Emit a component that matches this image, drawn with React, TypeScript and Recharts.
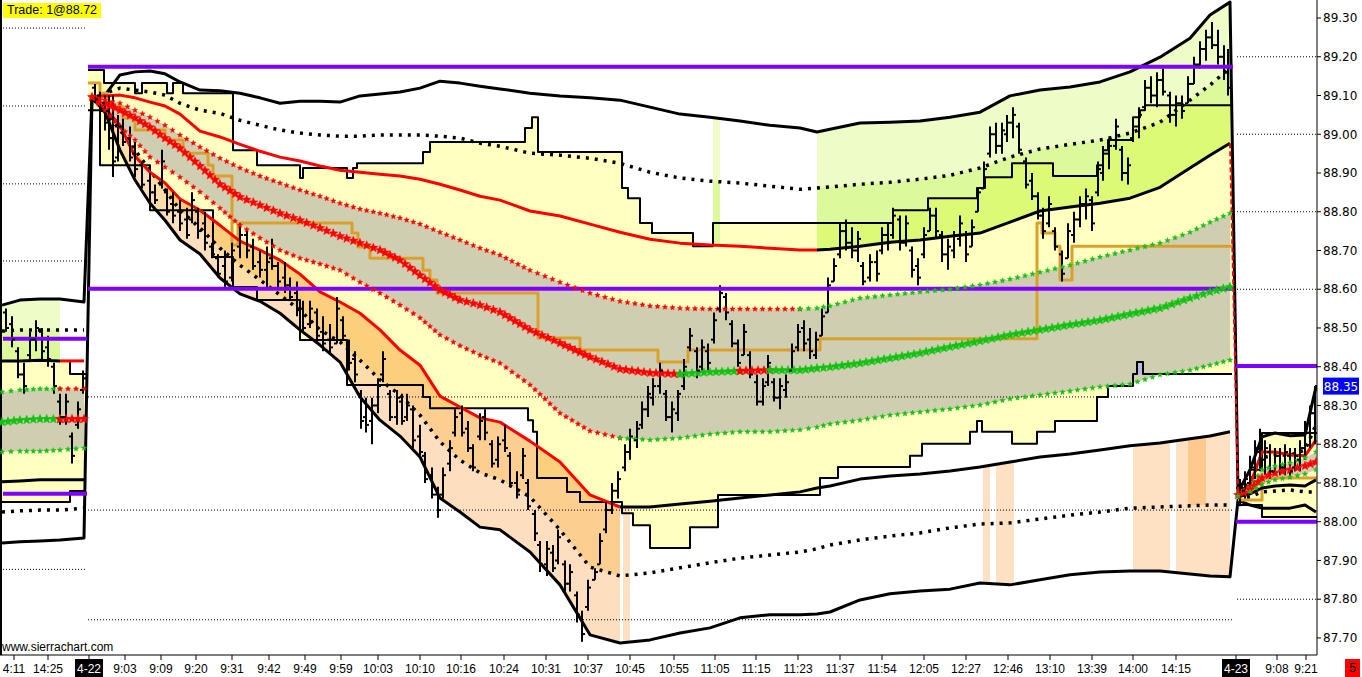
import React from 'react';
import { ComposedChart, XAxis, YAxis, Line, Area, Scatter, ErrorBar, ReferenceLine } from 'recharts';

const Y_MIN = 87.656;
const Y_MAX = 89.3465;
const X_MAX = 1317;

// bar-slot positions (left day | main day | right day)
const slotX = [2, 20, 40, 60, 84,
  92, 105, 120, 135, 150, 165, 180, 200, 220, 240, 260, 280, 300, 320, 340, 360, 380, 400, 420, 440, 460, 480, 500, 530, 560, 590, 620, 650, 680, 710, 740, 770, 800, 817, 830, 860, 890, 920, 950, 980, 1010, 1040, 1070, 1100, 1130, 1160, 1190, 1210, 1230,
  1238, 1250, 1262, 1275, 1290, 1305, 1316];

const upperEnv = [88.559, 88.572, 88.575, 88.575, 88.567,
  89.096, 89.101, 89.153, 89.161, 89.163, 89.156, 89.135, 89.114, 89.112, 89.106, 89.094, 89.080, 89.085, 89.085, 89.083, 89.099, 89.104, 89.109, 89.119, 89.137, 89.132, 89.124, 89.117, 89.106, 89.099, 89.094, 89.088, 89.070, 89.052, 89.044, 89.034, 89.023, 89.016, 89.006, 89.013, 89.029, 89.031, 89.034, 89.044, 89.057, 89.099, 89.114, 89.122, 89.135, 89.161, 89.199, 89.248, 89.308, 89.341,
  88.076, 88.134, 88.219, 88.229, 88.222, 88.224, 88.348];
const upperDot = [88.492, 88.495, 88.495, 88.495, 88.495,
  89.096, 89.106, 89.119, 89.114, 89.109, 89.101, 89.080, 89.062, 89.054, 89.036, 89.023, 89.011, 89.003, 88.998, 88.995, 88.995, 88.998, 88.998, 88.998, 88.995, 88.990, 88.977, 88.969, 88.951, 88.946, 88.938, 88.925, 88.902, 88.887, 88.879, 88.874, 88.866, 88.858, 88.861, 88.864, 88.871, 88.876, 88.884, 88.894, 88.913, 88.941, 88.962, 88.974, 88.985, 89.003, 89.031, 89.088, 89.127, 89.171,
  88.077, 88.108, 88.165, 88.172, 88.172, 88.185, 88.250];
const upperMid = [88.415, 88.415, 88.417, 88.415, 88.415,
  89.096, 89.099, 89.101, 89.094, 89.083, 89.073, 89.052, 89.008, 88.993, 88.974, 88.956, 88.941, 88.931, 88.918, 88.907, 88.902, 88.897, 88.892, 88.884, 88.871, 88.856, 88.840, 88.830, 88.802, 88.789, 88.768, 88.747, 88.729, 88.719, 88.714, 88.711, 88.706, 88.701, 88.701, 88.703, 88.711, 88.721, 88.727, 88.737, 88.745, 88.773, 88.802, 88.812, 88.822, 88.835, 88.863, 88.913, 88.946, 88.977,
  88.072, 88.095, 88.180, 88.180, 88.172, 88.170, 88.211];
const upperStar = [88.335, 88.340, 88.343, 88.343, 88.343,
  89.096, 89.088, 89.080, 89.062, 89.044, 89.023, 88.998, 88.967, 88.938, 88.913, 88.892, 88.874, 88.856, 88.840, 88.822, 88.807, 88.796, 88.784, 88.768, 88.747, 88.727, 88.706, 88.688, 88.649, 88.618, 88.590, 88.569, 88.557, 88.551, 88.549, 88.549, 88.549, 88.549, 88.551, 88.557, 88.577, 88.585, 88.593, 88.600, 88.611, 88.626, 88.644, 88.662, 88.683, 88.701, 88.719, 88.747, 88.773, 88.796,
  88.072, 88.087, 88.134, 88.144, 88.152, 88.165, 88.180];
const centerStar = [88.257, 88.262, 88.265, 88.265, 88.265,
  89.096, 89.080, 89.062, 89.042, 89.018, 88.990, 88.964, 88.918, 88.871, 88.838, 88.817, 88.796, 88.778, 88.758, 88.737, 88.719, 88.701, 88.675, 88.636, 88.598, 88.572, 88.559, 88.541, 88.495, 88.461, 88.425, 88.394, 88.384, 88.381, 88.386, 88.389, 88.391, 88.391, 88.396, 88.399, 88.409, 88.422, 88.435, 88.451, 88.466, 88.482, 88.495, 88.508, 88.520, 88.536, 88.551, 88.577, 88.593, 88.606,
  88.069, 88.082, 88.113, 88.126, 88.134, 88.144, 88.154];
const lowerStar = [88.180, 88.182, 88.182, 88.185, 88.190,
  89.096, 89.062, 89.018, 88.985, 88.941, 88.915, 88.889, 88.851, 88.809, 88.765, 88.732, 88.701, 88.680, 88.665, 88.649, 88.618, 88.590, 88.559, 88.526, 88.482, 88.454, 88.430, 88.409, 88.353, 88.280, 88.234, 88.216, 88.211, 88.216, 88.226, 88.232, 88.232, 88.237, 88.244, 88.252, 88.262, 88.275, 88.283, 88.291, 88.301, 88.317, 88.327, 88.337, 88.348, 88.355, 88.379, 88.391, 88.404, 88.417,
  88.066, 88.077, 88.097, 88.108, 88.115, 88.123, 88.134];
const lowerMid = [88.103, 88.105, 88.108, 88.108, 88.108,
  89.096, 89.067, 89.023, 88.943, 88.902, 88.874, 88.833, 88.804, 88.765, 88.724, 88.701, 88.675, 88.639, 88.593, 88.567, 88.538, 88.495, 88.443, 88.404, 88.324, 88.296, 88.268, 88.257, 88.208, 88.154, 88.069, 88.038, 88.038, 88.046, 88.053, 88.061, 88.069, 88.077, 88.087, 88.092, 88.110, 88.118, 88.123, 88.131, 88.141, 88.154, 88.167, 88.175, 88.185, 88.196, 88.203, 88.214, 88.221, 88.232,
  88.064, 88.072, 88.087, 88.092, 88.095, 88.092, 88.108];
const lowerDot = [88.025, 88.028, 88.030, 88.030, 88.035,
  89.096, 89.057, 89.011, 88.959, 88.907, 88.856, 88.804, 88.758, 88.706, 88.662, 88.624, 88.585, 88.546, 88.495, 88.464, 88.417, 88.366, 88.327, 88.275, 88.206, 88.159, 88.126, 88.108, 88.064, 87.979, 87.883, 87.860, 87.868, 87.881, 87.894, 87.906, 87.914, 87.922, 87.930, 87.940, 87.953, 87.963, 87.971, 87.984, 87.994, 87.997, 88.007, 88.017, 88.025, 88.035, 88.038, 88.041, 88.043, 88.043,
  88.061, 88.064, 88.077, 88.079, 88.082, 88.077, 88.077];
const lowerEnv = [87.945, 87.948, 87.950, 87.953, 87.958,
  89.096, 89.057, 88.959, 88.882, 88.822, 88.778, 88.727, 88.691, 88.629, 88.588, 88.569, 88.538, 88.495, 88.456, 88.412, 88.322, 88.262, 88.221, 88.167, 88.061, 88.025, 87.986, 87.979, 87.922, 87.837, 87.708, 87.687, 87.695, 87.713, 87.726, 87.752, 87.760, 87.760, 87.762, 87.767, 87.798, 87.814, 87.821, 87.826, 87.842, 87.837, 87.850, 87.863, 87.870, 87.873, 87.873, 87.865, 87.860, 87.858,
  88.056, 88.043, 88.035, 88.035, 88.035, 88.043, 88.025];

// value-area high / low (step lines)
const vaHighX = [0, 70, 86, 88, 104, 135, 142, 167, 173, 183, 233, 257, 300, 303, 347, 353, 357, 423, 430, 525, 532, 538, 622, 628, 640, 652, 693, 713, 893, 928, 977, 985, 1012, 1053, 1097, 1103, 1108, 1133, 1140, 1145, 1232, 1236, 1250, 1262, 1317];
const vaHigh = [88.415, 88.381, 88.381, 89.166, 89.132, 89.106, 89.132, 89.106, 89.132, 89.106, 88.959, 88.920, 88.887, 88.913, 88.887, 88.913, 88.925, 88.954, 88.980, 89.016, 89.044, 88.954, 88.861, 88.835, 88.771, 88.745, 88.711, 88.771, 88.804, 88.835, 88.861, 88.889, 88.925, 88.892, 88.920, 88.959, 88.985, 89.044, 89.062, 89.075, 89.075, 88.087, 88.134, 88.229, 88.229];
const vaLowX = [0, 70, 86, 88, 100, 150, 213, 233, 257, 300, 347, 423, 430, 528, 533, 537, 567, 580, 622, 633, 650, 690, 718, 820, 838, 910, 922, 970, 977, 982, 1012, 1037, 1055, 1097, 1108, 1133, 1137, 1143, 1232, 1236, 1262, 1317];
const vaLow = [88.051, 88.079, 88.079, 89.062, 88.920, 88.804, 88.683, 88.606, 88.572, 88.469, 88.353, 88.322, 88.293, 88.262, 88.232, 88.113, 88.077, 88.051, 88.022, 87.991, 87.932, 87.986, 88.069, 88.113, 88.141, 88.170, 88.201, 88.232, 88.260, 88.232, 88.201, 88.232, 88.260, 88.322, 88.350, 88.381, 88.412, 88.381, 88.381, 88.043, 88.012, 88.012];

// developing VWAP step line
const vwapX = [88, 100, 107, 123, 135, 165, 183, 208, 213, 232, 238, 352, 358, 370, 423, 430, 437, 538, 580, 658, 688, 820, 1037, 1042, 1055, 1060, 1072, 1232, 1238, 1262, 1317];
const vwap = [89.132, 89.106, 89.070, 89.042, 89.011, 88.985, 88.951, 88.920, 88.892, 88.714, 88.771, 88.745, 88.709, 88.680, 88.649, 88.624, 88.590, 88.474, 88.443, 88.412, 88.443, 88.472, 88.771, 88.745, 88.711, 88.624, 88.711, 88.711, 88.056, 88.113, 88.113];

// highlighted bar columns: [x, top, bottom]
const peachStripes: [number, number, number][][] = [
  [[623, 88.038, 87.690], [630, 88.038, 87.687]],
  [[983, 88.144, 87.842], [990, 88.146, 87.839]],
  [[996, 88.149, 87.837], [1014, 88.157, 87.839]],
  [[1133, 88.196, 87.873], [1170, 88.206, 87.870]],
  [[1176, 88.208, 87.868], [1230, 88.232, 87.858]],
];
const amberStripe: [number, number, number][] = [[1188, 88.214, 88.041], [1206, 88.219, 88.043]];
const greenStripe: [number, number, number, number][] = [[713, 89.044, 88.879, 88.714], [720, 89.042, 88.876, 88.714]];
const lavenderBox: [number, number, number][] = [[1137, 88.412, 88.381], [1143, 88.412, 88.381]];

// OHLC bars: [x, open, high, low, close]
const ohlc: [number, number, number, number, number][] = [
  [6, 88.54, 88.55, 88.49, 88.50], [12, 88.51, 88.53, 88.45, 88.47], [18, 88.44, 88.45, 88.37, 88.38], [24, 88.38, 88.41, 88.33, 88.35],
  [30, 88.43, 88.49, 88.42, 88.47], [36, 88.47, 88.52, 88.44, 88.50], [42, 88.49, 88.50, 88.42, 88.44], [48, 88.45, 88.48, 88.40, 88.42],
  [54, 88.40, 88.41, 88.33, 88.35], [60, 88.31, 88.33, 88.25, 88.27], [66, 88.27, 88.33, 88.25, 88.31], [72, 88.22, 88.23, 88.15, 88.17],
  [78, 88.25, 88.31, 88.24, 88.29], [83, 88.34, 88.39, 88.33, 88.37],
  [95, 89.12, 89.13, 89.08, 89.09], [100, 89.10, 89.11, 89.05, 89.06], [105, 89.08, 89.10, 89.01, 89.03], [109, 89.06, 89.10, 88.96, 88.99],
  [113, 88.99, 89.10, 88.89, 88.93], [118, 88.94, 89.05, 88.93, 89.02], [123, 89.02, 89.04, 88.97, 88.98], [130, 88.99, 89.02, 88.93, 88.94],
  [135, 88.95, 88.98, 88.89, 88.91], [142, 88.92, 88.93, 88.86, 88.87], [150, 88.88, 88.90, 88.84, 88.85], [155, 88.85, 88.87, 88.82, 88.83],
  [162, 88.87, 88.96, 88.86, 88.93], [167, 88.85, 88.86, 88.79, 88.80], [173, 88.82, 88.85, 88.77, 88.79], [180, 88.80, 88.83, 88.75, 88.77],
  [187, 88.78, 88.81, 88.73, 88.74], [192, 88.78, 88.85, 88.77, 88.83], [198, 88.80, 88.81, 88.73, 88.75], [205, 88.77, 88.80, 88.70, 88.72],
  [212, 88.71, 88.72, 88.68, 88.69], [218, 88.68, 88.69, 88.63, 88.64], [225, 88.66, 88.70, 88.60, 88.62], [232, 88.63, 88.72, 88.62, 88.70],
  [240, 88.71, 88.77, 88.68, 88.74], [247, 88.74, 88.75, 88.68, 88.70], [253, 88.71, 88.73, 88.65, 88.66], [260, 88.67, 88.70, 88.63, 88.65],
  [267, 88.65, 88.71, 88.60, 88.67], [272, 88.68, 88.73, 88.65, 88.66], [278, 88.66, 88.67, 88.60, 88.62], [285, 88.63, 88.67, 88.59, 88.61],
  [290, 88.61, 88.63, 88.57, 88.58], [297, 88.59, 88.62, 88.53, 88.55], [303, 88.55, 88.57, 88.49, 88.50], [310, 88.51, 88.57, 88.50, 88.55],
  [317, 88.54, 88.55, 88.46, 88.48], [323, 88.49, 88.53, 88.44, 88.46], [330, 88.47, 88.51, 88.43, 88.45], [337, 88.46, 88.58, 88.46, 88.55],
  [343, 88.52, 88.53, 88.47, 88.48], [349, 88.46, 88.47, 88.39, 88.41], [355, 88.42, 88.44, 88.36, 88.38], [361, 88.33, 88.34, 88.24, 88.26],
  [366, 88.27, 88.32, 88.23, 88.25], [372, 88.26, 88.32, 88.20, 88.30], [378, 88.30, 88.37, 88.28, 88.35], [383, 88.38, 88.44, 88.36, 88.42],
  [390, 88.33, 88.34, 88.26, 88.27], [397, 88.27, 88.34, 88.25, 88.32], [402, 88.31, 88.33, 88.25, 88.26], [407, 88.27, 88.33, 88.26, 88.30],
  [413, 88.29, 88.30, 88.19, 88.21], [420, 88.22, 88.25, 88.17, 88.18], [425, 88.17, 88.18, 88.10, 88.11], [432, 88.12, 88.14, 88.06, 88.07],
  [438, 88.07, 88.09, 88.01, 88.03], [443, 88.07, 88.14, 88.06, 88.12], [450, 88.15, 88.21, 88.13, 88.19], [455, 88.23, 88.29, 88.22, 88.27],
  [462, 88.28, 88.30, 88.22, 88.23], [468, 88.24, 88.26, 88.18, 88.19], [473, 88.19, 88.20, 88.13, 88.14], [480, 88.22, 88.28, 88.21, 88.26],
  [485, 88.27, 88.29, 88.21, 88.23], [492, 88.20, 88.21, 88.14, 88.15], [498, 88.16, 88.22, 88.14, 88.20], [505, 88.21, 88.25, 88.18, 88.19],
  [510, 88.17, 88.18, 88.09, 88.10], [517, 88.10, 88.13, 88.06, 88.07], [523, 88.12, 88.19, 88.11, 88.17], [528, 88.10, 88.11, 88.03, 88.04],
  [535, 88.02, 88.03, 87.95, 87.97], [540, 87.94, 87.95, 87.87, 87.89], [547, 87.89, 87.95, 87.86, 87.93], [553, 87.92, 87.94, 87.87, 87.88],
  [558, 87.90, 87.98, 87.89, 87.96], [565, 87.89, 87.90, 87.82, 87.84], [570, 87.84, 87.89, 87.82, 87.87], [577, 87.81, 87.82, 87.74, 87.76],
  [582, 87.75, 87.77, 87.69, 87.71], [588, 87.78, 87.85, 87.77, 87.83], [595, 87.85, 87.88, 87.85, 87.87], [600, 87.89, 87.97, 87.89, 87.95],
  [606, 87.98, 88.05, 87.97, 88.03], [612, 88.03, 88.10, 88.02, 88.08], [618, 88.08, 88.13, 88.06, 88.11], [625, 88.14, 88.20, 88.13, 88.18],
  [630, 88.18, 88.24, 88.16, 88.22], [637, 88.21, 88.26, 88.19, 88.24], [642, 88.25, 88.31, 88.24, 88.29], [648, 88.29, 88.35, 88.27, 88.33],
  [653, 88.32, 88.37, 88.30, 88.35], [660, 88.35, 88.41, 88.33, 88.39], [666, 88.33, 88.34, 88.26, 88.27], [672, 88.27, 88.31, 88.23, 88.29],
  [678, 88.28, 88.34, 88.26, 88.33], [684, 88.35, 88.42, 88.34, 88.40], [690, 88.45, 88.50, 88.44, 88.48], [697, 88.44, 88.45, 88.37, 88.39],
  [702, 88.40, 88.47, 88.39, 88.45], [708, 88.44, 88.46, 88.39, 88.41], [714, 88.47, 88.54, 88.46, 88.52], [720, 88.55, 88.61, 88.54, 88.59],
  [726, 88.58, 88.59, 88.52, 88.54], [732, 88.51, 88.52, 88.45, 88.46], [738, 88.46, 88.47, 88.40, 88.41], [744, 88.43, 88.51, 88.43, 88.49],
  [750, 88.43, 88.44, 88.37, 88.38], [757, 88.36, 88.38, 88.30, 88.31], [763, 88.31, 88.37, 88.30, 88.35], [768, 88.36, 88.43, 88.35, 88.41],
  [774, 88.36, 88.37, 88.31, 88.32], [780, 88.32, 88.37, 88.29, 88.35], [786, 88.34, 88.38, 88.32, 88.36], [792, 88.39, 88.46, 88.39, 88.44],
  [798, 88.45, 88.51, 88.44, 88.49], [804, 88.50, 88.52, 88.44, 88.46], [810, 88.47, 88.50, 88.42, 88.44], [816, 88.43, 88.49, 88.42, 88.47],
  [822, 88.48, 88.55, 88.48, 88.53], [828, 88.54, 88.63, 88.54, 88.61], [834, 88.62, 88.68, 88.62, 88.66], [840, 88.69, 88.77, 88.68, 88.75],
  [846, 88.75, 88.78, 88.70, 88.72], [852, 88.72, 88.76, 88.68, 88.70], [858, 88.70, 88.75, 88.67, 88.73], [863, 88.66, 88.67, 88.61, 88.62],
  [870, 88.63, 88.69, 88.62, 88.67], [877, 88.67, 88.70, 88.62, 88.64], [882, 88.70, 88.76, 88.69, 88.74], [888, 88.74, 88.77, 88.70, 88.72],
  [893, 88.74, 88.81, 88.73, 88.79], [900, 88.78, 88.79, 88.70, 88.72], [906, 88.72, 88.79, 88.71, 88.77], [912, 88.70, 88.71, 88.63, 88.65],
  [918, 88.66, 88.68, 88.61, 88.63], [924, 88.69, 88.76, 88.68, 88.74], [930, 88.75, 88.81, 88.75, 88.79], [936, 88.79, 88.81, 88.73, 88.75],
  [942, 88.74, 88.75, 88.67, 88.69], [948, 88.69, 88.73, 88.65, 88.71], [954, 88.70, 88.75, 88.68, 88.74], [960, 88.73, 88.79, 88.71, 88.77],
  [966, 88.74, 88.75, 88.67, 88.69], [972, 88.71, 88.78, 88.71, 88.76], [978, 88.80, 88.86, 88.80, 88.85], [984, 88.86, 88.93, 88.86, 88.91],
  [990, 88.95, 89.02, 88.94, 89.00], [996, 89.00, 89.03, 88.95, 88.97], [1002, 88.97, 89.03, 88.95, 89.01], [1007, 89.00, 89.05, 88.98, 89.03],
  [1013, 89.03, 89.07, 88.99, 89.05], [1019, 89.02, 89.03, 88.95, 88.96], [1026, 88.93, 88.94, 88.86, 88.87], [1032, 88.88, 88.90, 88.83, 88.84],
  [1038, 88.84, 88.85, 88.78, 88.79], [1043, 88.79, 88.81, 88.73, 88.75], [1049, 88.77, 88.84, 88.76, 88.82], [1055, 88.75, 88.76, 88.70, 88.71],
  [1062, 88.69, 88.70, 88.62, 88.64], [1068, 88.68, 88.77, 88.68, 88.75], [1074, 88.74, 88.80, 88.72, 88.78], [1080, 88.78, 88.84, 88.76, 88.82],
  [1086, 88.82, 88.86, 88.78, 88.84], [1092, 88.83, 88.84, 88.75, 88.77], [1098, 88.85, 88.93, 88.84, 88.91], [1103, 88.90, 88.97, 88.88, 88.95],
  [1109, 88.95, 88.99, 88.91, 88.97], [1116, 88.97, 89.04, 88.96, 89.02], [1122, 88.96, 88.97, 88.88, 88.90], [1128, 88.90, 88.94, 88.87, 88.92],
  [1133, 88.99, 89.04, 88.98, 89.02], [1139, 89.02, 89.07, 88.99, 89.05], [1145, 89.07, 89.14, 89.07, 89.12], [1151, 89.12, 89.15, 89.08, 89.10],
  [1157, 89.10, 89.16, 89.07, 89.14], [1163, 89.14, 89.17, 89.10, 89.11], [1170, 89.10, 89.11, 89.03, 89.05], [1176, 89.05, 89.10, 89.02, 89.08],
  [1182, 89.08, 89.10, 89.04, 89.06], [1188, 89.08, 89.15, 89.08, 89.13], [1194, 89.13, 89.20, 89.13, 89.18], [1200, 89.18, 89.24, 89.17, 89.22],
  [1206, 89.22, 89.27, 89.19, 89.25], [1212, 89.25, 89.29, 89.22, 89.23], [1218, 89.23, 89.27, 89.18, 89.20], [1224, 89.20, 89.23, 89.14, 89.16],
  [1228, 89.16, 89.22, 89.10, 89.12],
  [1240, 88.05, 88.11, 88.04, 88.09], [1245, 88.08, 88.13, 88.06, 88.11], [1250, 88.10, 88.17, 88.08, 88.15], [1255, 88.14, 88.21, 88.11, 88.19],
  [1260, 88.18, 88.24, 88.13, 88.16], [1265, 88.16, 88.21, 88.12, 88.19], [1270, 88.18, 88.20, 88.11, 88.13], [1275, 88.13, 88.19, 88.12, 88.17],
  [1280, 88.17, 88.19, 88.12, 88.14], [1285, 88.14, 88.20, 88.12, 88.18], [1290, 88.17, 88.19, 88.11, 88.13], [1295, 88.14, 88.19, 88.13, 88.17],
  [1300, 88.16, 88.21, 88.13, 88.19], [1305, 88.19, 88.26, 88.16, 88.24], [1310, 88.23, 88.30, 88.19, 88.28], [1315, 88.28, 88.35, 88.20, 88.35],
];

const gridMain = [88.322, 88.030, 87.747];
const gridLeft = [89.274, 89.073, 88.872, 88.673, 87.877];
const gridRight = [89.20, 89.00, 88.80, 88.60, 87.80];
const levelsMain = [89.174, 88.601];
const levelsLeft = [88.472, 88.072];
const levelsRight = [88.402, 88.000];
const lastPrice = 88.35;

const yTicks = [87.7, 87.8, 87.9, 88.0, 88.1, 88.2, 88.3, 88.4, 88.5, 88.6, 88.7, 88.8, 88.9, 89.0, 89.1, 89.2, 89.3];
const xTickPos = [14, 48, 89, 125, 161, 196, 232, 269, 305, 341, 378, 420, 461, 504, 546, 588, 630, 674, 715, 756, 798, 840, 882, 924, 966, 1008, 1050, 1092, 1133, 1176, 1236, 1277, 1306];
const xTickLabels = ['4:11', '14:25', '4-22', '9:03', '9:09', '9:20', '9:31', '9:42', '9:49', '9:59', '10:03', '10:10', '10:16', '10:24', '10:31', '10:37', '10:45', '10:55', '11:05', '11:15', '11:23', '11:37', '11:54', '12:05', '12:27', '12:46', '13:10', '13:39', '14:00', '14:15', '4-23', '9:08', '9:21'];

// ---------- derived tables ----------
const rows = slotX.map((x, i) => ({
  x, uEnv: upperEnv[i], uDot: upperDot[i], uMid: upperMid[i], uStar: upperStar[i], cStar: centerStar[i],
  lStar: lowerStar[i], lMid: lowerMid[i], lDot: lowerDot[i], lEnv: lowerEnv[i],
}));
const seg = (a: number, b: number) => rows.filter((r) => r.x >= a && r.x <= b);
const stepRows = (xs: number[], vs: number[], a: number, b: number) =>
  xs.map((x, i) => ({ x, v: vs[i] })).filter((r) => r.x >= a && r.x <= b);
const DAYS: [number, number][] = [[0, 86], [88, 1233], [1236, 1317]];

const barRows = ohlc.map(([x, o, h, l, c]) => ({ x, y: c, err: [c - l, h - c] }));
const openRows = ohlc.map(([x, o]) => ({ x, y: o }));

const RED = '#ff0000';
const GREEN = '#12c212';
const BLACK = '#000000';

function starPath(cx: number, cy: number, R: number): string {
  const r = R * 0.45;
  let d = '';
  for (let k = 0; k < 10; k++) {
    const ang = -Math.PI / 2 + (k * Math.PI) / 5;
    const rad = k % 2 === 0 ? R : r;
    d += (k === 0 ? 'M' : 'L') + (cx + rad * Math.cos(ang)).toFixed(1) + ' ' + (cy + rad * Math.sin(ang)).toFixed(1);
  }
  return d + 'Z';
}

const makeStarDot = (color: string, R: number, gap: number) => (p: any) => {
  const { cx, cy, index, points } = p;
  if (cx == null || cy == null || isNaN(cx) || isNaN(cy)) return <g key={`st-${index}`} />;
  let d = '';
  const next = points && points[index + 1];
  if (next && next.x != null && next.y != null) {
    const dx = next.x - cx;
    const dy = next.y - cy;
    const L = Math.hypot(dx, dy);
    const n = Math.max(1, Math.floor(L / gap));
    for (let k = 0; k < n; k++) {
      const t = k / n;
      d += starPath(cx + dx * t, cy + dy * t, R);
    }
  } else {
    d = starPath(cx, cy, R);
  }
  return <path key={`st-${index}`} d={d} fill={color} stroke={color} strokeWidth={0.4} />;
};

const XTick = (p: any) => {
  const v = p.payload ? p.payload.value : undefined;
  const i = xTickPos.indexOf(v);
  const label = i >= 0 ? xTickLabels[i] : '';
  const isDate = label.indexOf('-') >= 0;
  return (
    <g>
      {isDate && <rect x={p.x - 14} y={p.y - 1} width={28} height={18} fill="#000" />}
      <text x={p.x} y={p.y + 13} textAnchor="middle" fontSize={12} fontFamily="Liberation Sans, Arial, sans-serif" fill={isDate ? '#fff' : '#000'}>
        {label}
      </text>
    </g>
  );
};

const PriceTag = (p: any) => {
  const vb = p.viewBox || {};
  const x = (vb.x || 0) + (vb.width || 0) + 6;
  const y = (vb.y || 0) - 8.5;
  return (
    <g>
      <rect x={x} y={y} width={36} height={17} fill="#0000ff" />
      <text x={x + 18} y={y + 13} textAnchor="middle" fontSize={12} fontFamily="DejaVu Sans, Verdana, sans-serif" fill="#fff">
        {lastPrice.toFixed(2)}
      </text>
    </g>
  );
};

export default function App() {
  const lineCommon = { isAnimationActive: false, dot: false, activeDot: false, type: 'linear' as const };
  const lines: React.ReactNode[] = [];
  let k = 0;
  const addLine = (data: any[], key: string, color: string, width: number, dash?: string, curve: any = 'linear') => {
    lines.push(
      <Line key={`ln${k++}`} {...lineCommon} type={curve} data={data} dataKey={key} stroke={color} strokeWidth={width}
        strokeDasharray={dash} strokeLinejoin="round" />
    );
  };
  const stars: React.ReactNode[] = [];
  const addStars = (data: any[], key: string, color: string, R: number, gap: number) => {
    stars.push(
      <Line key={`sr${k++}`} isAnimationActive={false} activeDot={false} type="linear" data={data} dataKey={key}
        stroke="none" dot={makeStarDot(color, R, gap)} />
    );
  };

  // envelopes (continuous across sessions)
  addLine(rows, 'uEnv', BLACK, 3);
  addLine(rows, 'lEnv', BLACK, 3);
  DAYS.forEach(([a, b]) => {
    addLine(seg(a, b), 'uDot', BLACK, 3.5, '3 6');
    addLine(seg(a, b), 'lDot', BLACK, 3.5, '3 6');
    addLine(stepRows(vaHighX, vaHigh, a, b), 'v', BLACK, 2, undefined, 'stepAfter');
    addLine(stepRows(vaLowX, vaLow, a, b), 'v', BLACK, 2, undefined, 'stepAfter');
  });
  addLine(stepRows(vwapX, vwap, 88, 1233), 'v', '#d9a12c', 3, undefined, 'stepAfter');
  addLine(stepRows(vwapX, vwap, 1236, 1317), 'v', '#d9a12c', 3, undefined, 'stepAfter');
  // middle bands
  addLine(seg(0, 60), 'uMid', BLACK, 3);
  addLine(seg(60, 86), 'uMid', RED, 3);
  addLine(seg(88, 817), 'uMid', RED, 3);
  addLine(seg(817, 1233), 'uMid', BLACK, 3);
  addLine(seg(1236, 1317), 'uMid', RED, 3);
  addLine(seg(1230, 1238), 'uMid', RED, 2, '5 3');
  addLine(seg(0, 86), 'lMid', BLACK, 3);
  addLine(seg(88, 620), 'lMid', RED, 3);
  addLine(seg(620, 1233), 'lMid', BLACK, 3);
  addLine(seg(1236, 1317), 'lMid', BLACK, 3);

  // star lines
  addStars(seg(0, 60), 'uStar', GREEN, 2.8, 6.5);
  addStars(seg(60, 86), 'uStar', RED, 2.8, 6.5);
  addStars(seg(88, 800), 'uStar', RED, 2.8, 6.5);
  addStars(seg(800, 1233), 'uStar', GREEN, 2.8, 6.5);
  addStars(seg(1236, 1317), 'uStar', GREEN, 2.8, 6.5);
  addStars(seg(0, 60), 'cStar', GREEN, 4.8, 5.5);
  addStars(seg(60, 86), 'cStar', RED, 4.8, 5.5);
  addStars(seg(88, 680), 'cStar', RED, 4.8, 5.5);
  addStars(seg(680, 740), 'cStar', GREEN, 4.8, 5.5);
  addStars(seg(740, 770), 'cStar', RED, 4.8, 5.5);
  addStars(seg(770, 1233), 'cStar', GREEN, 4.8, 5.5);
  addStars(seg(1236, 1317), 'cStar', RED, 4.8, 5.5);
  addStars(seg(0, 86), 'lStar', GREEN, 2.8, 6.5);
  addStars(seg(88, 620), 'lStar', RED, 2.8, 6.5);
  addStars(seg(620, 1233), 'lStar', GREEN, 2.8, 6.5);
  addStars(seg(1236, 1317), 'lStar', GREEN, 2.8, 6.5);

  const areaCommon = { isAnimationActive: false, stroke: 'none', activeDot: false as const };

  return (
    <div style={{ position: 'absolute', left: 0, top: 0, width: 1362, height: 677, background: '#fff', overflow: 'hidden' }}>
      <ComposedChart width={1362} height={677} margin={{ top: 0, right: 0, left: 0, bottom: 0 }}>
        <XAxis dataKey="x" type="number" domain={[0, X_MAX]} allowDataOverflow ticks={xTickPos} interval={0}
          tick={<XTick />} tickSize={5} tickMargin={0} height={22} axisLine={{ stroke: '#000' }} tickLine={{ stroke: '#000' }} />
        <YAxis orientation="right" type="number" domain={[Y_MIN, Y_MAX]} allowDataOverflow ticks={yTicks} interval={0}
          tickFormatter={(v: number) => v.toFixed(2)} width={45} tickSize={4} tickMargin={2}
          tick={{ fontSize: 12, fontFamily: 'DejaVu Sans, Verdana, sans-serif', fill: '#000' }}
          axisLine={{ stroke: '#000' }} tickLine={{ stroke: '#000' }} />

        {/* value-area fill */}
        {DAYS.map(([a, b], i) => (
          <Area key={`vah${i}`} {...areaCommon} data={stepRows(vaHighX, vaHigh, a, b)} dataKey="v" type="stepAfter"
            baseValue={Y_MIN} fill="#ffffc0" fillOpacity={1} />
        ))}
        {DAYS.map(([a, b], i) => (
          <Area key={`val${i}`} {...areaCommon} data={stepRows(vaLowX, vaLow, a, b)} dataKey="v" type="stepAfter"
            baseValue={Y_MIN} fill="#ffffff" fillOpacity={1} />
        ))}
        {/* lower (orange) bands */}
        <Area {...areaCommon} data={seg(105, 620)} dataKey={(r: any) => [r.lEnv, r.lDot]} type="linear" fill="rgb(252,205,157)" fillOpacity={0.667} />
        <Area {...areaCommon} data={seg(105, 620)} dataKey={(r: any) => [r.lDot, r.lMid]} type="linear" fill="rgb(250,183,90)" fillOpacity={0.667} />
        {/* upper (green) bands */}
        {[seg(0, 60), seg(817, 1233)].map((d, i) => (
          <Area key={`ga${i}`} {...areaCommon} data={d} dataKey={(r: any) => [r.uDot, r.uEnv]} type="linear" fill="rgb(212,247,117)" fillOpacity={0.4} />
        ))}
        {[seg(0, 60), seg(817, 1233)].map((d, i) => (
          <Area key={`gb${i}`} {...areaCommon} data={d} dataKey={(r: any) => [r.uMid, r.uDot]} type="linear" fill="rgb(167,242,8)" fillOpacity={0.4} />
        ))}
        {/* highlighted columns */}
        {peachStripes.map((s, i) => (
          <Area key={`ps${i}`} {...areaCommon} data={s.map(([x, t, btm]) => ({ x, r: [btm, t] }))} dataKey="r" type="linear" fill="#fee0c2" fillOpacity={1} />
        ))}
        <Area {...areaCommon} data={amberStripe.map(([x, t, btm]) => ({ x, r: [btm, t] }))} dataKey="r" type="linear" fill="#fdc98f" fillOpacity={1} />
        <Area {...areaCommon} data={greenStripe.map(([x, e, d]) => ({ x, r: [d, e] }))} dataKey="r" type="linear" fill="#eefcc8" fillOpacity={1} />
        <Area {...areaCommon} data={greenStripe.map(([x, e, d, m]) => ({ x, r: [m, d] }))} dataKey="r" type="linear" fill="#dcfa9c" fillOpacity={1} />
        {/* standard-deviation band */}
        {DAYS.map(([a, b], i) => (
          <Area key={`gr${i}`} {...areaCommon} data={seg(a, b)} dataKey={(r: any) => [r.lStar, r.uStar]} type="linear" fill="#d0ceb0" fillOpacity={1} />
        ))}
        <Area {...areaCommon} data={lavenderBox.map(([x, t, btm]) => ({ x, r: [btm, t] }))} dataKey="r" type="linear" fill="#b9b9ea" fillOpacity={1} />

        {/* dotted level lines */}
        {gridMain.map((v, i) => (
          <ReferenceLine key={`gm${i}`} segment={[{ x: 88, y: v }, { x: 1232, y: v }]} stroke="#000" strokeWidth={1} strokeDasharray="1 2" />
        ))}
        {gridLeft.map((v, i) => (
          <ReferenceLine key={`gl${i}`} segment={[{ x: 3, y: v }, { x: 86, y: v }]} stroke="#000" strokeWidth={1} strokeDasharray="1 2" />
        ))}
        {gridRight.map((v, i) => (
          <ReferenceLine key={`grr${i}`} segment={[{ x: 1237, y: v }, { x: 1316, y: v }]} stroke="#000" strokeWidth={1} strokeDasharray="1 2" />
        ))}
        <ReferenceLine x={1} stroke="#000" strokeWidth={2} />

        {lines}
        {stars}

        <Scatter data={barRows} dataKey="y" isAnimationActive={false}
          shape={(p: any) => <line x1={p.cx} x2={p.cx + 3} y1={p.cy} y2={p.cy} stroke="#000" strokeWidth={2} />}>
          <ErrorBar dataKey="err" direction="y" width={0} stroke="#000" strokeWidth={2} isAnimationActive={false} />
        </Scatter>
        <Scatter data={openRows} dataKey="y" isAnimationActive={false}
          shape={(p: any) => <line x1={p.cx - 3} x2={p.cx} y1={p.cy} y2={p.cy} stroke="#000" strokeWidth={2} />} />

        {/* purple levels */}
        {levelsMain.map((v, i) => (
          <ReferenceLine key={`pm${i}`} segment={[{ x: 88, y: v }, { x: 1233, y: v }]} stroke="#8000ff" strokeWidth={4} />
        ))}
        {levelsLeft.map((v, i) => (
          <ReferenceLine key={`pl${i}`} segment={[{ x: 3, y: v }, { x: 87, y: v }]} stroke="#8000ff" strokeWidth={4} />
        ))}
        {levelsRight.map((v, i) => (
          <ReferenceLine key={`pr${i}`} segment={[{ x: 1236, y: v }, { x: 1317, y: v }]} stroke="#8000ff" strokeWidth={4} />
        ))}
        <ReferenceLine y={lastPrice} stroke="none" label={(p: any) => <PriceTag {...p} />} />
      </ComposedChart>

      <div style={{ position: 'absolute', left: 3, top: 3, height: 15, padding: '0 4px', background: '#ffff00', fontFamily: 'Liberation Sans, Arial, sans-serif', fontSize: 12.5, lineHeight: '15px', color: '#000' }}>
        Trade: 1@88.72
      </div>
      <div style={{ position: 'absolute', left: 2, top: 640, fontFamily: 'Liberation Sans, Arial, sans-serif', fontSize: 12, lineHeight: '14px', color: '#000' }}>
        www.sierrachart.com
      </div>
      <div style={{ position: 'absolute', left: 1345, top: 659, width: 15, height: 18, background: '#ff0000', fontFamily: 'Liberation Sans, Arial, sans-serif', fontSize: 13, lineHeight: '18px', textAlign: 'center', color: '#000' }}>
        5
      </div>
    </div>
  );
}
